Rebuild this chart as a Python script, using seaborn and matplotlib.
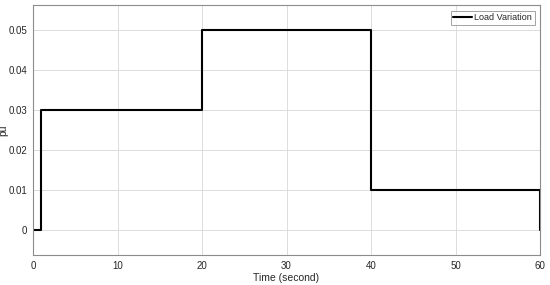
import numpy as np
import matplotlib
matplotlib.use("Agg")
import matplotlib.pyplot as plt
import seaborn as sns
import pandas as pd

# Load step profile (MATLAB-style figure)
time_s = [0, 1, 1, 20, 20, 40, 40, 60, 60]
load_pu = [0, 0, 0.03, 0.03, 0.05, 0.05, 0.01, 0.01, 0]
x_ticks = [0, 10, 20, 30, 40, 50, 60]
y_ticks = [0, 0.01, 0.02, 0.03, 0.04, 0.05]

sns.set_theme(style="whitegrid")
plt.rcParams['font.family'] = ['Liberation Sans', 'DejaVu Sans']

df = pd.DataFrame({"Time": time_s, "pu": load_pu})

fig = plt.figure(figsize=(5.5, 2.85), dpi=100)
ax = fig.add_axes([0.06, 0.105, 0.922, 0.877])

sns.lineplot(data=df, x="Time", y="pu", sort=False, estimator=None,
             color="black", linewidth=1.5, label="Load Variation", ax=ax)

ax.set_xlim(0, 60)
ax.set_ylim(-0.0062, 0.0562)
ax.set_xticks(x_ticks)
ax.set_yticks(y_ticks)
ax.set_xticklabels([str(v) for v in x_ticks])
ax.set_yticklabels(["0", "0.01", "0.02", "0.03", "0.04", "0.05"])
ax.tick_params(labelsize=7, colors="#262626", length=0, pad=4)
ax.set_xlabel("Time (second)", fontsize=7.5, labelpad=2)
ax.set_ylabel("pu", fontsize=7.5)
ax.yaxis.set_label_coords(-0.048, 0.5)

ax.grid(True, color="#dcdcdc", linewidth=0.7)
for s in ax.spines.values():
    s.set_color("#8c8c8c")
    s.set_linewidth(0.8)
ax.set_facecolor("white")

leg = ax.legend(loc="upper right", fontsize=6.5, frameon=True, fancybox=False,
                handlelength=2.0, handletextpad=0.3, borderpad=0.3,
                borderaxespad=0.6)
leg.get_frame().set_edgecolor("#8c8c8c")
leg.get_frame().set_linewidth(0.7)

fig.savefig("out.png", dpi=100)
